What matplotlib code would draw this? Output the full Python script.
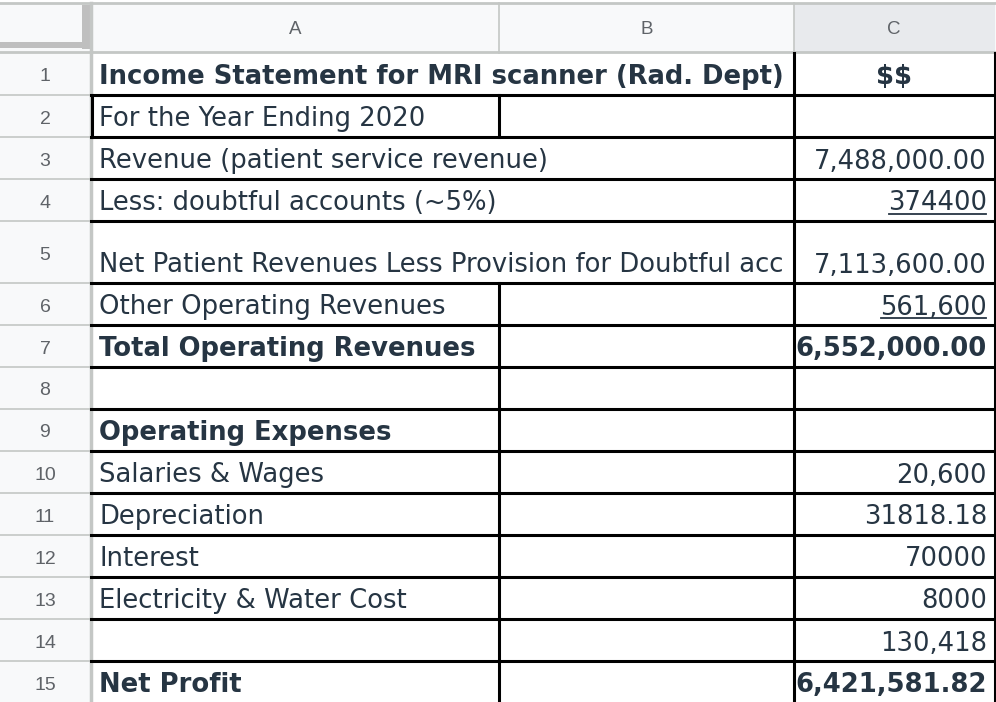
import matplotlib
matplotlib.use("Agg")
import matplotlib.pyplot as plt
from matplotlib.patches import Rectangle

# ---------------- data ----------------
col_letters = ["A", "B", "C"]
row_numbers = list(range(1, 16))
labels = [
    "Income Statement for MRI scanner (Rad. Dept)",
    "For the Year Ending 2020",
    "Revenue (patient service revenue)",
    "Less: doubtful accounts (~5%)",
    "Net Patient Revenues Less Provision for Doubtful accounts",
    "Other Operating Revenues",
    "Total Operating Revenues",
    "",
    "Operating Expenses",
    "Salaries & Wages",
    "Depreciation",
    "Interest",
    "Electricity & Water Cost",
    "",
    "Net Profit",
]
values = [
    "$$", "", "7,488,000.00", "374400", "7,113,600.00", "561,600",
    "6,552,000.00", "", "", "20,600", "31818.18", "70000", "8000",
    "130,418", "6,421,581.82",
]
bold_rows = [1, 7, 9, 15]
underlined_rows = [4, 6]
# rows where column A text spans across B (no A|B border)
merged_ab_rows = [1, 3, 4, 5]

# ---------------- layout ----------------
W, H = 996, 702
fig = plt.figure(figsize=(W / 100, H / 100), dpi=100)
ax = fig.add_axes([0, 0, 1, 1])
ax.set_xlim(0, W)
ax.set_ylim(H, 0)
ax.axis("off")

x_a, x_b, x_c, x_end = 90.5, 499, 793.5, 995
y_top, y_hdr = 3, 52.5
heights = [42.5, 42, 42, 42, 62, 42, 42, 41.5, 42.5, 42, 42, 42, 42, 42, 42]
tops = [y_hdr]
for h in heights:
    tops.append(tops[-1] + h)

TXT = "#263543"
GRID = "#c4c7c5"
HDRBG = "#f8f9fa"
FONT = "DejaVu Sans"
HFONT = "Liberation Sans"
FS = 18.6
HFS = 14

# header backgrounds
ax.add_patch(Rectangle((0, y_top), W, y_hdr - y_top, facecolor=HDRBG, edgecolor="none", zorder=0))
ax.add_patch(Rectangle((x_c, y_top), x_end - x_c, y_hdr - y_top, facecolor="#e8eaed", edgecolor="none", zorder=0))
ax.add_patch(Rectangle((0, y_hdr), x_a, H - y_hdr, facecolor=HDRBG, edgecolor="none", zorder=0))
# corner thick bars
ax.add_patch(Rectangle((82, y_top + 2), 8, 44, facecolor="#bfbfbf", edgecolor="none", zorder=1))
ax.add_patch(Rectangle((0, 42), 90, 6, facecolor="#bfbfbf", edgecolor="none", zorder=1))

# header grid lines
ax.plot([0, W], [y_top, y_top], color=GRID, lw=2, zorder=2)
ax.plot([0, W], [y_hdr - 0.5, y_hdr - 0.5], color=GRID, lw=2, zorder=2)
ax.plot([x_a, x_a], [y_top, H], color=GRID, lw=2.5, zorder=2)
for xv in (x_b, x_c):
    ax.plot([xv, xv], [y_top, y_hdr], color=GRID, lw=1.2, zorder=2)
for t in tops[1:]:
    ax.plot([0, x_a], [t, t], color=GRID, lw=1.2, zorder=2)

# column letters
centers = [(x_a + x_b) / 2, (x_b + x_c) / 2, (x_c + x_end) / 2]
for cx, letter in zip(centers, col_letters):
    ax.text(cx, 28, letter, ha="center", va="center_baseline", fontsize=HFS - 0.5,
            color="#5f6368", family=HFONT)

# row numbers
for i, rn in enumerate(row_numbers):
    ax.text(45, (tops[i] + tops[i + 1]) / 2 + 1, str(rn), ha="center", va="center_baseline",
            fontsize=HFS, color="#5f6368", family=HFONT)

# black cell borders
BL = dict(color="black", lw=2.2, zorder=3, solid_capstyle="projecting")
for i in range(1, len(row_numbers)):
    ax.plot([x_a, x_end], [tops[i], tops[i]], **BL)
ax.plot([x_c, x_c], [y_hdr, H], **BL)
ax.plot([x_end, x_end], [y_hdr, H], **BL)
ax.plot([x_a + 1, x_a + 1], [tops[1], tops[2]], **BL)
for i, rn in enumerate(row_numbers):
    if rn not in merged_ab_rows:
        ax.plot([x_b, x_b], [tops[i], tops[i + 1]], **BL)

# cell text
label_items = []
underline_items = []
for i, rn in enumerate(row_numbers):
    base = tops[i + 1] - 10.5
    weight = "bold" if rn in bold_rows else "normal"
    if labels[i]:
        t = ax.text(99, base, labels[i], ha="left", va="baseline", fontsize=FS,
                    color=TXT, family=FONT, weight=weight, zorder=4, parse_math=False)
        label_items.append(t)
    if values[i]:
        if rn == 1:
            ax.text((x_c + x_end) / 2, base, values[i], ha="center", va="baseline",
                    fontsize=FS, color=TXT, family=FONT, weight="bold", zorder=4,
                    parse_math=False)
        else:
            t = ax.text(987, base, values[i], ha="right", va="baseline", fontsize=FS,
                        color=TXT, family=FONT, weight=weight, zorder=4, parse_math=False)
            if rn in underlined_rows:
                underline_items.append((t, base))

fig.canvas.draw()
r = fig.canvas.get_renderer()
inv = ax.transData.inverted()

# text overflowing into column C is cut at the cell border (as the sheet does)
limit = x_c - 1
for t in label_items:
    s = t.get_text()
    while s:
        bb = t.get_window_extent(r)
        x1, _ = inv.transform((bb.x1, bb.y0))
        if x1 <= limit:
            break
        s = s[:-1]
        t.set_text(s)

for t, base in underline_items:
    bb = t.get_window_extent(r)
    x0, _ = inv.transform((bb.x0, bb.y0))
    x1, _ = inv.transform((bb.x1, bb.y0))
    ax.plot([x0 + 1, x1 - 1], [base + 3.5, base + 3.5], color=TXT, lw=1.3, zorder=4)

fig.savefig("out.png", dpi=100)
